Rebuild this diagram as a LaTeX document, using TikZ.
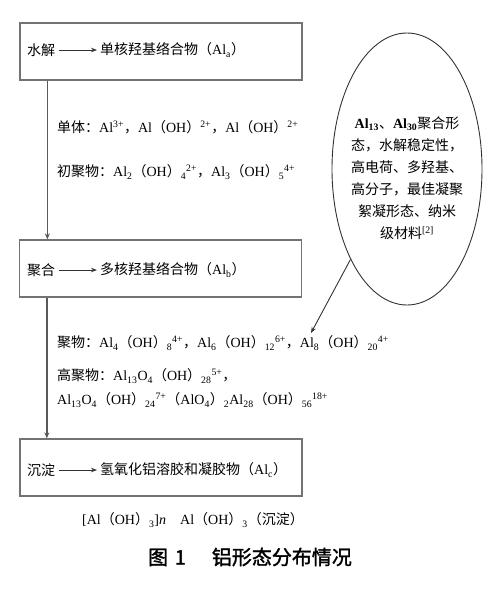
\documentclass[tikz,border=0pt]{standalone}
\usepackage{fontspec}
\setmainfont{Liberation Serif}
\newfontfamily\cjk{Noto Sans CJK SC}
\newfontfamily\cjkcap[FakeBold=1.6]{Noto Sans CJK SC}
\usetikzlibrary{arrows.meta,shapes.geometric}
\newcommand\zlp{{\cjk （}}
\newcommand\zrp{{\cjk ）}}
\newcommand\zcm{{\cjk ，}}
\newcommand\sbx[1]{\textsubscript{#1}}
\newcommand\spx[1]{\textsuperscript{#1}}
\begin{document}
\begin{tikzpicture}[x=1pt,y=-1pt,
  box/.style={draw=black!55,line width=1.3pt,minimum width=282pt,minimum height=57pt,inner sep=0pt},
  txt/.style={anchor=west,inner sep=0pt,font=\fontsize{14}{17}\selectfont},
  varr/.style={-{Stealth[length=6pt,width=5pt]},line width=1.3pt,black!65},
  harr/.style={-{Stealth[length=6pt,width=4.5pt]},line width=0.9pt,black!80},
  bubble/.style={draw=black!80,ellipse,line width=0.9pt,minimum width=150pt,minimum height=272pt,inner sep=0pt}
]
\useasboundingbox (0,0) rectangle (500,600);

% boxes
\node[box] (b1) at (161,51.5) {};
\node[box] (b2) at (160.5,268.5) {};
\node[box] (b3) at (161,467.5) {};

% box 1 text
\node[txt] (w1) at (27,50) {\cjk 水解};
\node[txt] (t1) at (100,50) {{\cjk 单核羟基络合物（}Al\sbx{a}{\cjk ）}};
\draw[harr] ([xshift=4pt]w1.east) -- ([xshift=-3pt]w1.east -| t1.west);

% box 2 text
\node[txt] (w2) at (27,270) {\cjk 聚合};
\node[txt] (t2) at (100,270) {{\cjk 多核羟基络合物（}Al\sbx{b}{\cjk ）}};
\draw[harr] ([xshift=4pt]w2.east) -- ([xshift=-3pt]w2.east -| t2.west);

% box 3 text
\node[txt] (w3) at (27,470) {\cjk 沉淀};
\node[txt] (t3) at (100,470) {{\cjk 氢氧化铝溶胶和凝胶物（}Al\sbx{c}{\cjk ）}};
\draw[harr] ([xshift=4pt]w3.east) -- ([xshift=-3pt]w3.east -| t3.west);

% vertical connectors
\draw[varr] ([xshift=28pt]b1.south west) -- ([xshift=28pt]b1.south west |- b2.north);
\draw[varr] ([xshift=28pt]b2.south west) -- ([xshift=28pt]b2.south west |- b3.north);

% species lines
\node[txt] (l1) at (57,127) {{\cjk 单体：}Al\spx{3+}\zcm Al\zlp OH\zrp\spx{2+}\zcm Al\zlp OH\zrp\spx{2+}};
\node[txt] (l2) at (57,172) {{\cjk 初聚物：}Al\sbx{2}\zlp OH\zrp\sbx{4}\spx{2+}\zcm Al\sbx{3}\zlp OH\zrp\sbx{5}\spx{4+}};
\node[txt] (l3) at (57,343) {{\cjk 聚物：}Al\sbx{4}\zlp OH\zrp\sbx{8}\spx{4+}\zcm Al\sbx{6}\zlp OH\zrp\sbx{12}\spx{6+}\zcm Al\sbx{8}\zlp OH\zrp\sbx{20}\spx{4+}};
\node[txt] (l4) at (57,376) {{\cjk 高聚物：}Al\sbx{13}O\sbx{4}\zlp OH\zrp\sbx{28}\spx{5+}\zcm};
\node[txt] (l5) at (57,400) {Al\sbx{13}O\sbx{4}\zlp OH\zrp\sbx{24}\spx{7+}\zlp AlO\sbx{4}\zrp\sbx{2}Al\sbx{28}\zlp OH\zrp\sbx{56}\spx{18+}};

% bottom text
\node[txt] (l6) at (82,520) {[Al\zlp OH\zrp\sbx{3}]\textit{n}\quad Al\zlp OH\zrp\sbx{3}{\cjk （沉淀）}};

% ellipse
\node[bubble] (el) at (407,169) {};
\node[align=center,inner sep=0pt,font=\fontsize{14}{22}\selectfont] (et) at (407,178)
  {\textbf{Al\sbx{13}}{\cjk 、}\textbf{Al\sbx{30}}{\cjk 聚合形}\\
   {\cjk 态，水解稳定性，}\\
   {\cjk 高电荷、多羟基、}\\
   {\cjk 高分子，最佳凝聚}\\
   {\cjk 絮凝形态、纳米}\\
   {\cjk 级材料}\spx{[2]}};
\coordinate (tip) at (311,333);
\draw[harr] (el.238) -- (tip);

% caption
\node[inner sep=0pt,font=\cjkcap\fontsize{20}{24}\selectfont] (cap) at (250,557) {图\,\,1\hspace{1.3em}铝形态分布情况};
\end{tikzpicture}
\end{document}
